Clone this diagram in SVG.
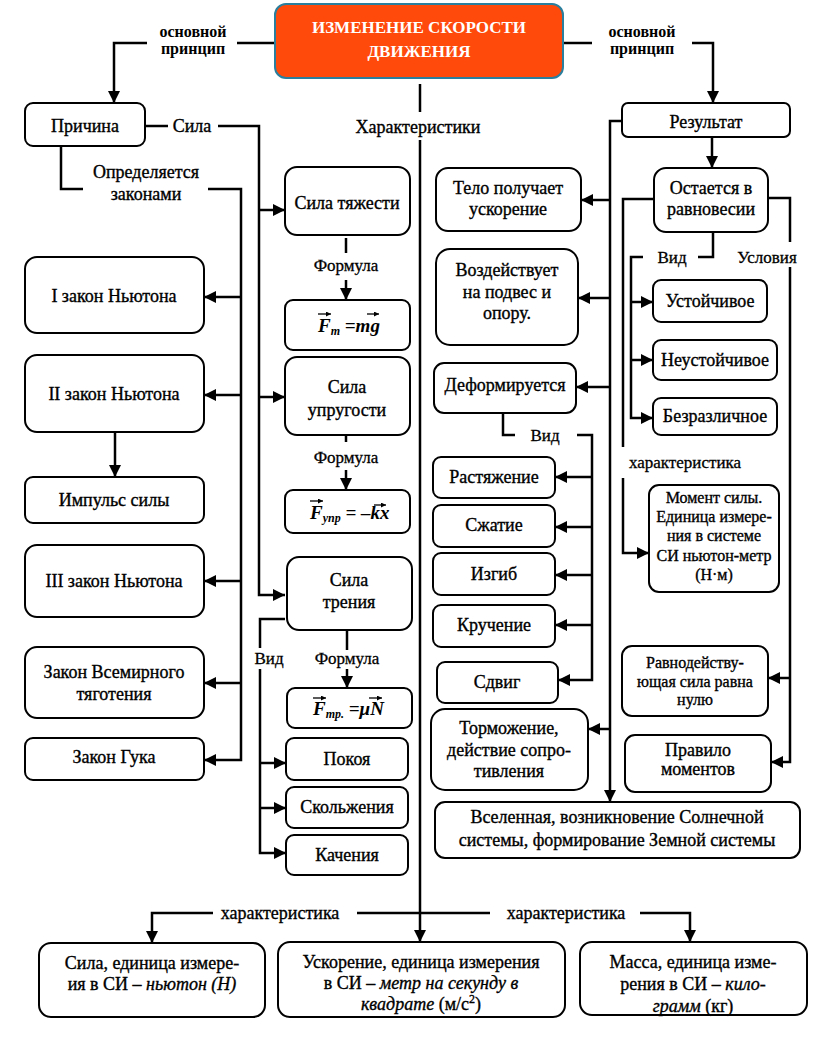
<svg xmlns="http://www.w3.org/2000/svg" width="821" height="1039" viewBox="0 0 821 1039">
<style>
.b{fill:#fff;stroke:#000;stroke-width:2}
.t{font-family:"Liberation Serif","Times New Roman",serif;font-size:18px;fill:#000;text-anchor:middle;stroke:#000;stroke-width:0.35}
.s{font-size:16px}
.l{font-family:"Liberation Serif","Times New Roman",serif;font-size:17px;fill:#000;text-anchor:middle;stroke:#000;stroke-width:0.3}
.lb{font-family:"Liberation Serif","Times New Roman",serif;font-size:16px;font-weight:bold;fill:#000;text-anchor:middle}
.f{font-family:"Liberation Serif","Times New Roman",serif;font-size:19px;font-weight:bold;font-style:italic;fill:#000}
.ti{font-family:"Liberation Serif","Times New Roman",serif;font-size:17px;font-weight:bold;fill:#fff;text-anchor:middle}
.i{font-style:italic}
.c{fill:none;stroke:#000;stroke-width:2.5}
.a{fill:none;stroke:#000;stroke-width:2.5;marker-end:url(#ah)}
.v{fill:none;stroke:#000;stroke-width:1.3}
</style>
<defs>
<marker id="ah" viewBox="0 0 10 10" refX="10" refY="5" markerWidth="12" markerHeight="12" markerUnits="userSpaceOnUse" orient="auto"><path d="M0,0 L10,5 L0,10 z" fill="#000"/></marker>
<marker id="vh" viewBox="0 0 10 10" refX="10" refY="5" markerWidth="5" markerHeight="5" markerUnits="userSpaceOnUse" orient="auto"><path d="M0,0 L10,5 L0,10 z" fill="#000"/></marker>
</defs>
<rect width="821" height="1039" fill="#fff"/>

<g id="connectors">
<path class="c" d="M275,43 H237"/>
<path class="a" d="M147,43 H114 V103"/>
<path class="c" d="M563,43 H592"/>
<path class="a" d="M692,43 H713 V103"/>
<path class="c" d="M145,126 H168"/>
<path class="a" d="M218,126 H259 V595 H285"/>
<path class="a" d="M259,210 H285"/>
<path class="a" d="M259,397 H285"/>
<path class="c" d="M61,146 V189 H83"/>
<path class="a" d="M208,189 H241 V760 H204"/>
<path class="a" d="M241,297 H204"/>
<path class="a" d="M241,395 H204"/>
<path class="a" d="M241,581 H204"/>
<path class="a" d="M241,683 H204"/>
<path class="a" d="M115,432 V477"/>
<path class="c" d="M346,238 V253"/>
<path class="a" d="M346,280 V300"/>
<path class="c" d="M346,435 V442"/>
<path class="a" d="M346,470 V490"/>
<path class="c" d="M347,630 V650"/>
<path class="a" d="M347,669 V688"/>
<path class="c" d="M285,619 H260 V648"/>
<path class="a" d="M260,669 V853 H286"/>
<path class="a" d="M260,763 H286"/>
<path class="a" d="M260,808 H286"/>
<path class="c" d="M420,84 V112"/>
<path class="a" d="M420,140 V942"/>
<path class="c" d="M420,913 H357"/>
<path class="a" d="M213,913 H152 V943"/>
<path class="c" d="M420,913 H490"/>
<path class="a" d="M640,913 H690 V942"/>
<path class="a" d="M622,121 H610 V802"/>
<path class="a" d="M610,200 H581"/>
<path class="a" d="M610,298 H578"/>
<path class="a" d="M610,387 H576"/>
<path class="a" d="M610,729 H588"/>
<path class="a" d="M712,137 V168"/>
<path class="c" d="M503,413 V435 H515"/>
<path class="a" d="M577,435 H592 V680 H558"/>
<path class="a" d="M592,477 H555"/>
<path class="a" d="M592,527 H555"/>
<path class="a" d="M592,575 H555"/>
<path class="a" d="M592,625 H555"/>
<path class="c" d="M713,232 V257 H698"/>
<path class="a" d="M643,257 H631 V418 H653"/>
<path class="a" d="M631,302 H653"/>
<path class="a" d="M631,360 H653"/>
<path class="c" d="M654,199 H623 V447"/>
<path class="a" d="M623,478 V553 H649"/>
<path class="c" d="M768,198 H790 V242"/>
<path class="a" d="M790,267 V762 H771"/>
<path class="a" d="M790,678 H768"/>
</g>

<g id="labels">
<text class="lb" x="193" y="37">основной</text>
<text class="lb" x="193" y="54">принцип</text>
<text class="lb" x="642" y="37">основной</text>
<text class="lb" x="642" y="54">принцип</text>
<text class="t" x="192" y="132">Сила</text>
<text class="t" x="146" y="178">Определяется</text>
<text class="t" x="146" y="200">законами</text>
<text class="t" x="418" y="133">Характеристики</text>
<text class="l" x="346" y="271">Формула</text>
<text class="l" x="346" y="463">Формула</text>
<text class="l" x="347" y="664">Формула</text>
<text class="l" x="269" y="664">Вид</text>
<text class="l" x="545" y="441">Вид</text>
<text class="l" x="672" y="263">Вид</text>
<text class="l" x="767" y="263">Условия</text>
<text class="l" x="685" y="468">характеристика</text>
<text class="t" x="280" y="919">характеристика</text>
<text class="t" x="566" y="919">характеристика</text>
</g>

<g id="title">
<rect x="275" y="4" width="288" height="74" rx="11" fill="#ff4a0c" stroke="#2a7f9e" stroke-width="2"/>
<text class="ti" x="419" y="33">ИЗМЕНЕНИЕ СКОРОСТИ</text>
<text class="ti" x="419" y="57">ДВИЖЕНИЯ</text>
</g>

<g id="prichina"><rect class="b" x="25" y="103" width="120" height="43" rx="8"/><text class="t" x="85" y="132">Причина</text></g>
<g id="zakon1"><rect class="b" x="25" y="257" width="179" height="76" rx="12"/><text class="t" x="114" y="302">I закон Ньютона</text></g>
<g id="zakon2"><rect class="b" x="25" y="355" width="179" height="77" rx="12"/><text class="t" x="114" y="400">II закон Ньютона</text></g>
<g id="impuls"><rect class="b" x="25" y="477" width="179" height="46" rx="8"/><text class="t" x="114" y="506">Импульс силы</text></g>
<g id="zakon3"><rect class="b" x="25" y="545" width="179" height="72" rx="12"/><text class="t" x="114" y="587">III закон Ньютона</text></g>
<g id="vsemirn"><rect class="b" x="25" y="647" width="179" height="71" rx="12"/><text class="t" x="114" y="678">Закон Всемирного</text><text class="t" x="114" y="700">тяготения</text></g>
<g id="guk"><rect class="b" x="25" y="738" width="179" height="42" rx="8"/><text class="t" x="114" y="763">Закон Гука</text></g>

<g id="tyazh"><rect class="b" x="285" y="167" width="125" height="68" rx="12"/><text class="t" x="347" y="209">Сила тяжести</text></g>
<g id="f1"><rect class="b" x="285" y="300" width="125" height="50" rx="8"/>
<text class="f" x="318" y="332">F<tspan font-size="12" dy="3">m</tspan><tspan dy="-3"> =m</tspan>g</text>
<path class="v" d="M318,314 H331" marker-end="url(#vh)"/><path class="v" d="M367,314 H379" marker-end="url(#vh)"/></g>
<g id="uprug"><rect class="b" x="285" y="357" width="125" height="78" rx="12"/><text class="t" x="347" y="393">Сила</text><text class="t" x="347" y="416">упругости</text></g>
<g id="f2"><rect class="b" x="285" y="490" width="125" height="43" rx="8"/>
<text class="f" x="310" y="519">F<tspan font-size="12" dy="3">упр</tspan><tspan dy="-3"> = –kx</tspan></text>
<path class="v" d="M310,501 H323" marker-end="url(#vh)"/><path class="v" d="M374,505 H386" marker-end="url(#vh)"/></g>
<g id="trenie"><rect class="b" x="287" y="557" width="125" height="73" rx="12"/><text class="t" x="349" y="586">Сила</text><text class="t" x="349" y="608">трения</text></g>
<g id="f3"><rect class="b" x="287" y="688" width="125" height="40" rx="8"/>
<text class="f" x="313" y="715">F<tspan font-size="12" dy="3">тр.</tspan><tspan dy="-3"> =μN</tspan></text>
<path class="v" d="M313,698 H326" marker-end="url(#vh)"/><path class="v" d="M369,698 H382" marker-end="url(#vh)"/></g>
<g id="pokoya"><rect class="b" x="286" y="738" width="122" height="42" rx="8"/><text class="t" x="347" y="765">Покоя</text></g>
<g id="skolzh"><rect class="b" x="286" y="787" width="122" height="41" rx="8"/><text class="t" x="347" y="813">Скольжения</text></g>
<g id="kachen"><rect class="b" x="286" y="835" width="122" height="40" rx="8"/><text class="t" x="347" y="861">Качения</text></g>

<g id="telo"><rect class="b" x="436" y="168" width="145" height="63" rx="12"/><text class="t" x="508" y="194">Тело получает</text><text class="t" x="508" y="215">ускорение</text></g>
<g id="vozd"><rect class="b" x="436" y="249" width="142" height="96" rx="14"/><text class="t" x="507" y="276">Воздействует</text><text class="t" x="507" y="298">на подвес и</text><text class="t" x="507" y="319">опору.</text></g>
<g id="deform"><rect class="b" x="434" y="363" width="142" height="50" rx="10"/><text class="t" x="505" y="391">Деформируется</text></g>
<g id="rast"><rect class="b" x="433" y="457" width="122" height="41" rx="8"/><text class="t" x="494" y="483">Растяжение</text></g>
<g id="szhat"><rect class="b" x="433" y="505" width="122" height="42" rx="8"/><text class="t" x="494" y="531">Сжатие</text></g>
<g id="izgib"><rect class="b" x="433" y="553" width="122" height="42" rx="8"/><text class="t" x="494" y="580">Изгиб</text></g>
<g id="kruch"><rect class="b" x="433" y="605" width="122" height="42" rx="8"/><text class="t" x="494" y="631">Кручение</text></g>
<g id="sdvig"><rect class="b" x="437" y="662" width="121" height="41" rx="8"/><text class="t" x="497" y="688">Сдвиг</text></g>
<g id="torm"><rect class="b" x="431" y="709" width="157" height="81" rx="14"/><text class="t" x="509" y="734">Торможение,</text><text class="t" x="509" y="756">действие сопро-</text><text class="t" x="509" y="777">тивления</text></g>
<g id="vselen"><rect class="b" x="435" y="802" width="365" height="56" rx="10"/><text class="t" x="617" y="823">Вселенная, возникновение Солнечной</text><text class="t" x="617" y="846">системы, формирование Земной системы</text></g>

<g id="rezult"><rect class="b" x="622" y="103" width="168" height="34" rx="6"/><text class="t" x="706" y="128">Результат</text></g>
<g id="ostaet"><rect class="b" x="654" y="168" width="114" height="64" rx="12"/><text class="t" x="711" y="194">Остается в</text><text class="t" x="711" y="215">равновесии</text></g>
<g id="ustoich"><rect class="b" x="653" y="280" width="114" height="42" rx="8"/><text class="t" x="710" y="307">Устойчивое</text></g>
<g id="neust"><rect class="b" x="653" y="340" width="124" height="40" rx="8"/><text class="t" x="715" y="366">Неустойчивое</text></g>
<g id="bezraz"><rect class="b" x="653" y="398" width="124" height="37" rx="8"/><text class="t" x="715" y="422">Безразличное</text></g>
<g id="moment"><rect class="b" x="649" y="485" width="130" height="107" rx="10"/>
<text class="t s" x="714" y="503">Момент силы.</text><text class="t s" x="714" y="522">Единица измере-</text><text class="t s" x="714" y="541">ния в системе</text><text class="t s" x="714" y="561">СИ ньютон-метр</text><text class="t s" x="714" y="580">(Н·м)</text></g>
<g id="ravnod"><rect class="b" x="622" y="646" width="146" height="70" rx="10"/><text class="t s" x="695" y="668">Равнодейству-</text><text class="t s" x="695" y="687">ющая сила равна</text><text class="t s" x="695" y="705">нулю</text></g>
<g id="pravilo"><rect class="b" x="625" y="735" width="146" height="57" rx="10"/><text class="t" x="698" y="756">Правило</text><text class="t" x="698" y="775">моментов</text></g>

<g id="sila"><rect class="b" x="39" y="943" width="226" height="74" rx="12"/><text class="t" x="152" y="969">Сила, единица измере-</text><text class="t" x="152" y="990">ия в СИ – <tspan class="i">ньютон (Н)</tspan></text></g>
<g id="uskor"><rect class="b" x="278" y="942" width="287" height="75" rx="12"/><text class="t" x="421" y="968">Ускорение, единица измерения</text><text class="t" x="421" y="989">в СИ – <tspan class="i">метр на секунду в</tspan></text><text class="t" x="421" y="1010"><tspan class="i">квадрате</tspan> (м/с<tspan font-size="12" dy="-7">2</tspan><tspan dy="7">)</tspan></text></g>
<g id="massa"><rect class="b" x="580" y="942" width="227" height="73" rx="12"/><text class="t" x="693" y="968">Масса, единица  изме-</text><text class="t" x="693" y="990">рения в СИ – <tspan class="i">кило-</tspan></text><text class="t" x="693" y="1012"><tspan class="i">грамм</tspan> (кг)</text></g>
</svg>
